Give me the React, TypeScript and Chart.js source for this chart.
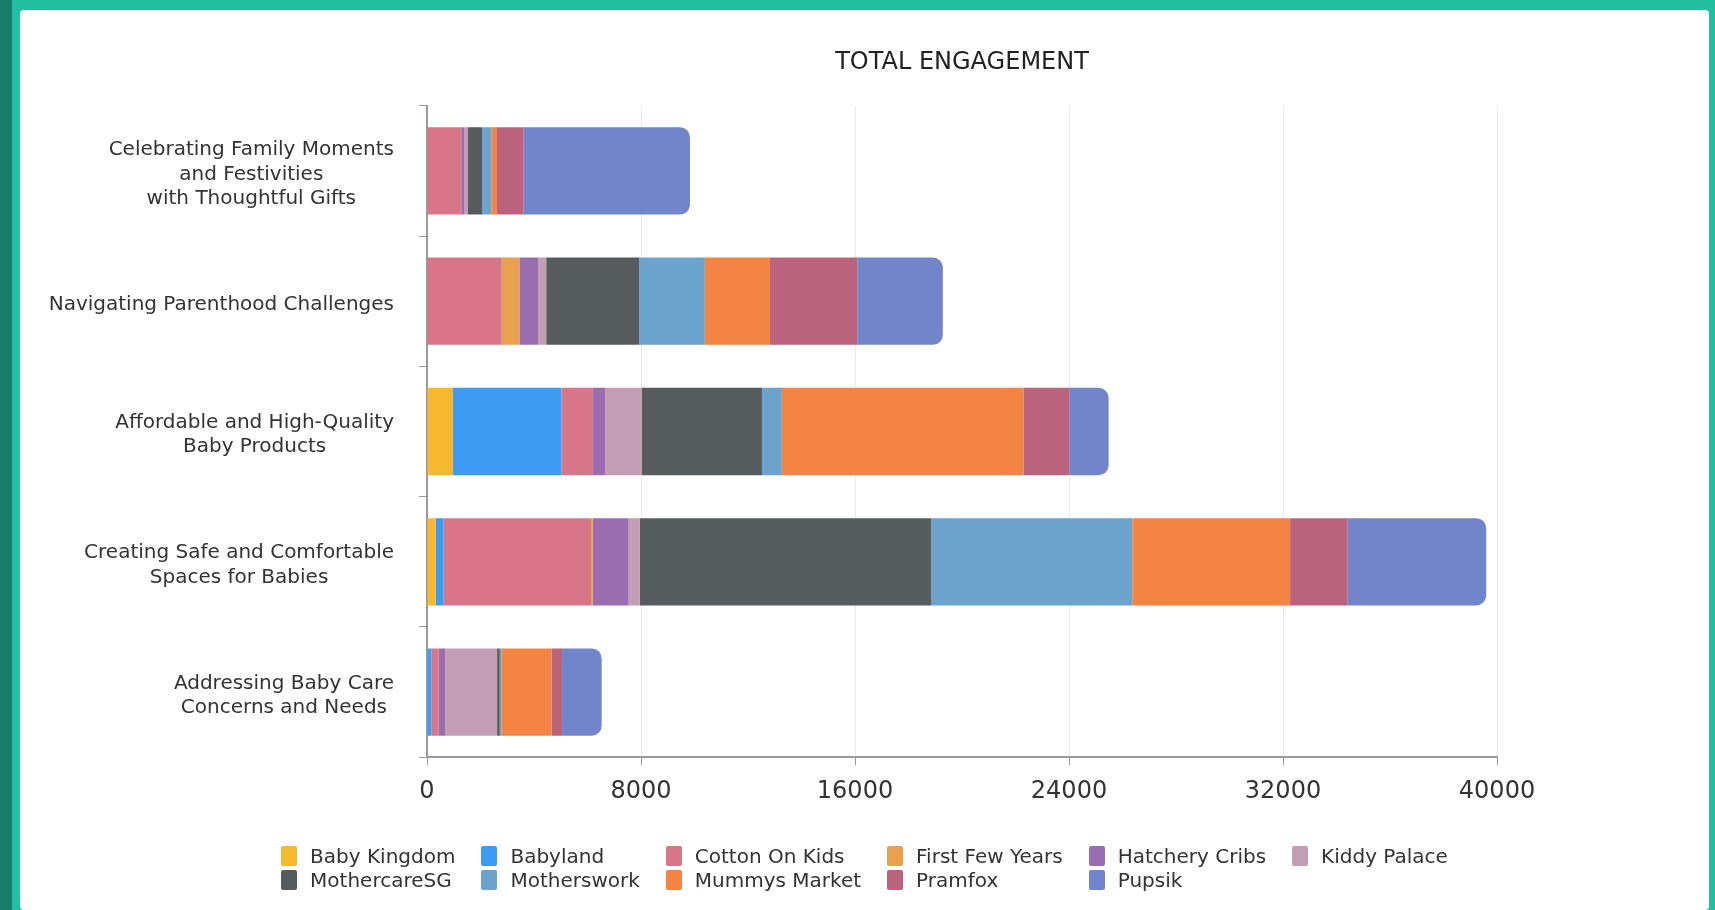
import React, { useEffect, useRef } from "react";
import { Chart, registerables } from "chart.js";

Chart.register(...registerables);

const FONT = "'DejaVu Sans', sans-serif";

const categories: string[][] = [
  ["Celebrating Family Moments", "and Festivities", "with Thoughtful Gifts"],
  ["Navigating Parenthood Challenges"],
  ["Affordable and High-Quality", "Baby Products"],
  ["Creating Safe and Comfortable", "Spaces for Babies"],
  ["Addressing Baby Care", "Concerns and Needs"],
];

const brands = [
  "Baby Kingdom",
  "Babyland",
  "Cotton On Kids",
  "First Few Years",
  "Hatchery Cribs",
  "Kiddy Palace",
  "MothercareSG",
  "Motherswork",
  "Mummys Market",
  "Pramfox",
  "Pupsik",
];

const brandColors = [
  "#F5B82F",
  "#3D9CF2",
  "#D97588",
  "#E9A14F",
  "#9A6DB1",
  "#C39DB4",
  "#565B5D",
  "#6BA3CD",
  "#F38443",
  "#BB637D",
  "#7285CB",
];

const babyKingdom = [0, 0, 974, 330, 0];
const babyland = [0, 0, 4055, 290, 160];
const cottonOnKids = [1283, 2794, 1174, 5510, 275];
const firstFewYears = [0, 659, 0, 70, 0];
const hatcheryCribs = [100, 702, 459, 1335, 245];
const kiddyPalace = [150, 301, 1375, 415, 1940];
const mothercareSG = [523, 3481, 4484, 10900, 100];
const motherswork = [348, 2450, 745, 7515, 60];
const mummysMarket = [212, 2435, 9028, 5900, 1880];
const pramfox = [996, 3267, 1718, 2153, 390];
const pupsik = [6219, 3195, 1470, 5180, 1480];

const seriesValues = [
  babyKingdom,
  babyland,
  cottonOnKids,
  firstFewYears,
  hatcheryCribs,
  kiddyPalace,
  mothercareSG,
  motherswork,
  mummysMarket,
  pramfox,
  pupsik,
];

const xMin = 0;
const xMax = 40000;
const xStep = 8000;

const CANVAS_W = 1689;
const CANVAS_H = 900;

const yLabelPlugin = {
  id: "yLabelPlugin",
  afterDraw(chart: any) {
    const scale = chart.scales.y;
    const ctx = chart.ctx;
    ctx.save();
    ctx.font = `20px ${FONT}`;
    ctx.fillStyle = "#333333";
    ctx.textAlign = "center";
    ctx.textBaseline = "middle";
    const lineH = 24.5;
    categories.forEach((lines, i) => {
      const yc = scale.getPixelForValue(i) + 3.5;
      const widest = Math.max(...lines.map((l) => ctx.measureText(l).width));
      const xc = scale.right - 33 - widest / 2;
      lines.forEach((line, j) => {
        ctx.fillText(line, xc, yc + (j - (lines.length - 1) / 2) * lineH);
      });
    });
    ctx.restore();
  },
};

function ChartCanvas() {
  const ref = useRef<HTMLCanvasElement | null>(null);
  useEffect(() => {
    if (!ref.current) return;
    const chart = new Chart(ref.current, {
      type: "bar",
      data: {
        labels: categories,
        datasets: brands.map((b, i) => ({
          label: b,
          data: seriesValues[i],
          backgroundColor: brandColors[i],
          borderWidth: 0,
          borderRadius: i === brands.length - 1 ? 10 : 0,
          categoryPercentage: 1,
          barPercentage: 0.67,
        })),
      },
      options: {
        indexAxis: "y",
        responsive: false,
        animation: false,
        devicePixelRatio: 1,
        layout: { padding: { left: 0, right: 212, top: 0, bottom: 92 } },
        plugins: {
          legend: { display: false },
          tooltip: { enabled: false },
          title: {
            display: true,
            text: "TOTAL ENGAGEMENT",
            fullSize: false,
            color: "#222222",
            font: { family: FONT, size: 24, weight: "normal" },
            padding: { top: 38, bottom: 29 },
          },
        },
        scales: {
          x: {
            stacked: true,
            min: xMin,
            max: xMax,
            ticks: {
              stepSize: xStep,
              color: "#333333",
              font: { family: FONT, size: 24 },
              padding: 12,
              callback: (v: any) => String(v),
            },
            grid: {
              color: "#e9e9e9",
              lineWidth: 1,
              tickColor: "#9a9a9a",
              tickLength: 8,
            },
            border: { color: "#9a9a9a", width: 2 },
          },
          y: {
            stacked: true,
            ticks: { display: false },
            grid: {
              drawOnChartArea: false,
              tickColor: "#9a9a9a",
              tickLength: 8,
            },
            border: { color: "#9a9a9a", width: 2 },
            afterFit: (s: any) => {
              s.width = 407;
            },
          },
        },
      },
      plugins: [yLabelPlugin],
    } as any);
    return () => chart.destroy();
  }, []);
  return (
    <canvas
      ref={ref}
      width={CANVAS_W}
      height={CANVAS_H}
      style={{ width: CANVAS_W, height: CANVAS_H, display: "block" }}
    />
  );
}

function Legend() {
  return (
    <div
      style={{
        position: "absolute",
        left: 0,
        right: 0,
        top: 836,
        display: "flex",
        justifyContent: "center",
      }}
    >
      <div
        style={{
          display: "grid",
          gridTemplateColumns: "repeat(6, auto)",
          columnGap: 26,
          rowGap: 4,
        }}
      >
        {brands.map((b, i) => (
          <div key={b} style={{ display: "flex", alignItems: "center", gap: 13, height: 20 }}>
            <span
              style={{
                width: 16,
                height: 20,
                background: brandColors[i],
                borderRadius: 2,
                display: "inline-block",
              }}
            />
            <span
              style={{
                fontFamily: FONT,
                fontSize: 20,
                lineHeight: "20px",
                color: "#333333",
                whiteSpace: "nowrap",
              }}
            >
              {b}
            </span>
          </div>
        ))}
      </div>
    </div>
  );
}

export default function App() {
  return (
    <div
      style={{
        position: "fixed",
        left: 0,
        top: 0,
        width: 1715,
        height: 910,
        background: "#22bfa1",
        overflow: "hidden",
      }}
    >
      <div
        style={{
          position: "absolute",
          left: 0,
          top: 0,
          width: 12,
          height: 910,
          background: "#187d69",
        }}
      />
      <div
        style={{
          position: "absolute",
          left: 20,
          top: 10,
          width: CANVAS_W,
          height: CANVAS_H,
          background: "#ffffff",
          borderRadius: 4,
        }}
      >
        <ChartCanvas />
        <Legend />
      </div>
    </div>
  );
}
